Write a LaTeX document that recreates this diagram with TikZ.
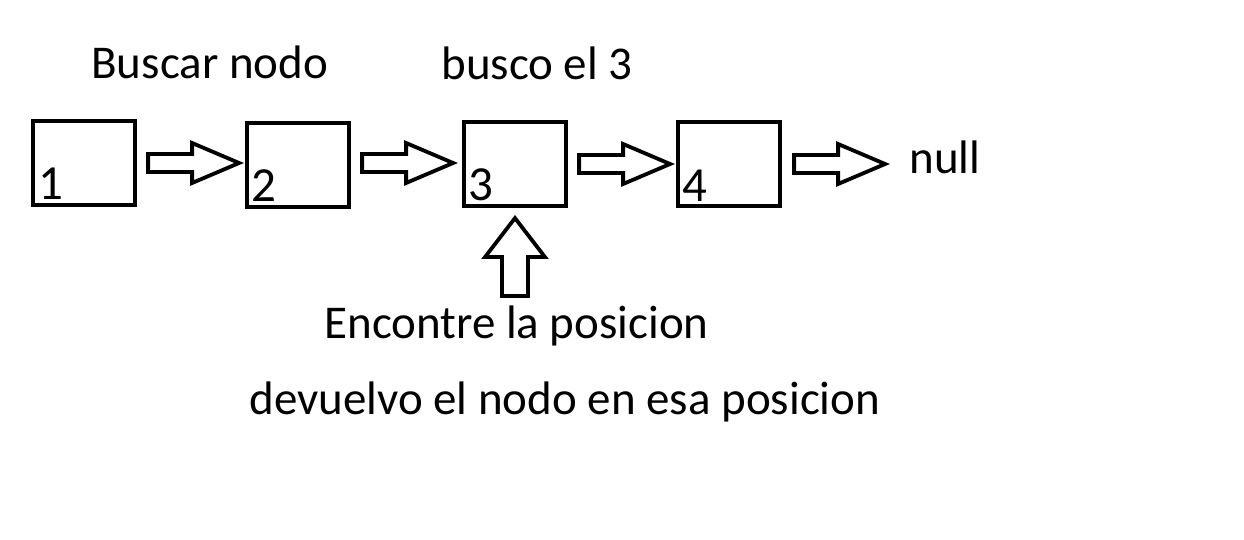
\documentclass[tikz,border=0pt]{standalone}
\usepackage{fontspec}
\setmainfont{Carlito}
\usetikzlibrary{positioning}

\tikzset{
    caja/.style={draw, line width=2.1pt, minimum width=51pt, minimum height=42pt, inner sep=0pt},
    num/.style={anchor=base west, inner sep=0pt, font=\fontsize{24.5}{28}\selectfont},
    texto/.style={anchor=base west, inner sep=0pt, font=\fontsize{23.5}{28}\selectfont},
    flecha/.pic={
        \draw[line width=1.9pt, line join=miter]
            (0,-4.5pt) -- (22pt,-4.5pt) -- (22pt,-10pt) -- (45.5pt,0)
            -- (22pt,10pt) -- (22pt,4.5pt) -- (0,4.5pt) -- cycle;
    }
}

\begin{document}
\begin{tikzpicture}[x=0.5pt, y=-0.5pt]
            \useasboundingbox (0,0) rectangle (1244,540);

            % lista
            \node[caja] (b1) at (84,163)  {};
            \node[caja] (b2) at (298,165) {};
            \node[caja] (b3) at (515,164) {};
            \node[caja] (b4) at (729,164) {};

            \node[num] (n1) at (38,200)  {1};
            \node[num] (n2) at (251,202) {2};
            \node[num] (n3) at (468,201) {3};
            \node[num] (n4) at (682,202) {4};

            \node[texto] (nulo)    at (909,174) {null};
            \node[texto] (buscar)  at (91,79)   {Buscar nodo};
            \node[texto] (busco)   at (441,80)  {busco el 3};
            \node[texto] (encontre) at (324,338) {Encontre la posicion};
            \node[texto] (devuelvo) at (249,415) {devuelvo el nodo en esa posicion};

            % flechas
            \pic at ([xshift=5.5pt]b1.east) {flecha};
            \pic at ([xshift=5.5pt,yshift=1pt]b2.east) {flecha};
            \pic at ([xshift=5.5pt]b3.east) {flecha};
            \pic at ([xshift=6pt]b4.east) {flecha};

            % flecha hacia arriba
            \coordinate (punta) at ([yshift=-5pt]b3.south);
            \draw[line width=1.9pt, line join=miter]
                (punta) -- ++(15pt,-19.5pt) -- ++(-8.5pt,0) -- ++(0,-19.5pt)
                -- ++(-13pt,0) -- ++(0,19.5pt) -- ++(-8.5pt,0) -- cycle;
\end{tikzpicture}
\end{document}
